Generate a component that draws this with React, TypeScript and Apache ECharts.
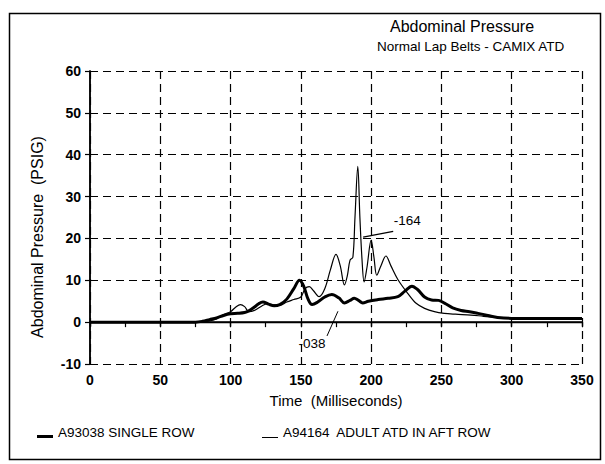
import React, { useEffect, useRef } from "react";
import * as echarts from "echarts";

// A93038 SINGLE ROW (thick line)
const timeA93038 = [0, 40, 75, 80, 85, 90, 95, 100, 105, 110, 113, 117, 120, 123, 127, 131, 135, 140, 145, 149, 152, 155, 158, 162, 167, 172, 177, 181, 185, 188, 191, 194, 198, 205, 212, 219, 224, 229, 233, 238, 243, 248, 253, 258, 264, 270, 276, 283, 290, 300, 320, 350];
const pressureA93038 = [0, 0, 0, 0.2, 0.6, 1.0, 1.6, 2.0, 2.1, 2.3, 2.7, 3.6, 4.4, 4.8, 4.3, 3.9, 4.2, 5.5, 8.0, 10.0, 8.6, 5.6, 4.2, 4.8, 6.0, 6.6, 5.8, 4.6, 5.2, 5.7, 5.2, 4.6, 5.0, 5.4, 5.7, 6.1, 7.4, 8.6, 7.8, 6.0, 5.3, 5.2, 4.4, 3.4, 2.8, 2.5, 2.1, 1.6, 1.1, 0.9, 0.9, 0.9];

// A94164 ADULT ATD IN AFT ROW (thin line)
const timeA94164 = [0, 40, 80, 88, 95, 100, 104, 107, 110, 113, 117, 122, 126, 130, 135, 140, 145, 150, 153, 156, 159, 163, 167, 171, 175, 178, 181, 183, 185, 187, 188.5, 190.5, 192, 193.5, 195, 197, 200, 202, 204, 207, 210.5, 214, 219, 226, 232, 238, 245, 252, 260, 271, 280, 290, 300, 350];
const pressureA94164 = [0, 0, 0.1, 0.5, 1.8, 2.5, 3.7, 4.2, 3.7, 2.5, 2.8, 3.8, 4.4, 4.2, 4.0, 4.8, 5.4, 6.0, 8.0, 8.5, 7.5, 6.1, 8.0, 12.5, 16.2, 13.5, 8.9, 11.0, 14.8, 15.5, 25.0, 37.2, 25.0, 15.0, 9.6, 13.0, 19.6, 15.5, 11.2, 13.5, 15.8, 13.5, 10.2, 6.9, 4.5, 3.3, 2.5, 2.1, 1.9, 1.7, 1.4, 1.1, 0.9, 0.9];

const seriesNames = ["A93038 SINGLE ROW", "A94164  ADULT ATD IN AFT ROW"];
const titleText = "Abdominal Pressure";
const subtitleText = "Normal Lap Belts - CAMIX ATD";
const xName = "Time  (Milliseconds)";
const yName = "Abdominal Pressure  (PSIG)";

// annotation texts, anchors and leader lines (data coordinates)
const note164Text = "-164";
const note164At = [225.7, 24.2];
const note164Leader = [[194.3, 20.3], [215.7, 21.7]];
const note038Text = "-038";
const note038At = [157.9, -5.0];
const note038Leader = [[176.4, 2.6], [168.6, -3.3]];

export default function App() {
  const ref = useRef<HTMLDivElement>(null);
  useEffect(() => {
    document.body.style.margin = "0";
    if (!ref.current) return;
    const chart = echarts.init(ref.current, null, { renderer: "svg" });
    const font = "'Liberation Sans', Arial, Helvetica, sans-serif";
    const zip = (a: number[], b: number[]) => a.map((t, i) => [t, b[i]]);
    const black = "#000";
    chart.setOption({
      animation: false,
      backgroundColor: "#fff",
      textStyle: { fontFamily: font, color: black },
      title: [
        { text: titleText, left: 390, top: 18, padding: 0, textStyle: { fontSize: 16, fontWeight: "normal", color: black, fontFamily: font } },
        { text: subtitleText, left: 377, top: 39, padding: 0, textStyle: { fontSize: 13.5, fontWeight: "normal", color: black, fontFamily: font } },
      ],
      legend: [
        {
          data: [{ name: seriesNames[0], icon: "path://M0,0M0,9L16,9L16,12L0,12Z" }],
          left: 37, top: 425, padding: 0, itemWidth: 16, itemHeight: 12, itemGap: 0,
          textStyle: { fontSize: 13.5, color: black, fontFamily: font },
        },
        {
          data: [{ name: seriesNames[1], icon: "path://M0,0M0,11L16,11L16,12L0,12Z" }],
          left: 262, top: 425, padding: 0, itemWidth: 16, itemHeight: 12, itemGap: 0,
          textStyle: { fontSize: 13.5, color: black, fontFamily: font },
        },
      ],
      grid: { left: 90, right: 23, top: 71, bottom: 100, containLabel: false },
      xAxis: [
        {
          type: "value", min: 0, max: 350, interval: 50, position: "bottom",
          axisLine: { show: true, lineStyle: { color: black, width: 1.5 } },
          axisTick: { show: true, inside: false, length: 5, lineStyle: { color: black, width: 1.2 } },
          minorTick: { show: true, splitNumber: 2, length: 5, lineStyle: { color: black, width: 1.2 } },
          axisLabel: { color: black, fontWeight: "bold", fontSize: 14, margin: 9, fontFamily: font },
          splitLine: { show: true, lineStyle: { color: black, type: [8, 5], width: 1.2 } },
          name: xName, nameLocation: "middle", nameGap: 29,
          nameTextStyle: { fontSize: 15, color: black, fontFamily: font },
        },
        {
          type: "value", min: 0, max: 350, interval: 50, position: "top",
          axisLine: { show: true, lineStyle: { color: black, width: 1.2 } },
          axisTick: { show: true, inside: true, length: 5, lineStyle: { color: black, width: 1.2 } },
          axisLabel: { show: false }, splitLine: { show: false },
        },
      ],
      yAxis: [
        {
          type: "value", min: -10, max: 60, interval: 10, position: "left",
          axisLine: { show: true, lineStyle: { color: black, width: 1.5 } },
          axisTick: { show: true, inside: false, length: 5, lineStyle: { color: black, width: 1.2 } },
          axisLabel: { color: black, fontWeight: "bold", fontSize: 14, margin: 9, fontFamily: font },
          splitLine: { show: true, lineStyle: { color: black, type: [8, 5], width: 1.2 } },
        },
        {
          type: "value", min: -10, max: 60, interval: 10, position: "right",
          axisLine: { show: true, lineStyle: { color: black, width: 1.5 } },
          axisTick: { show: false }, axisLabel: { show: false }, splitLine: { show: false },
        },
      ],
      series: [
        {
          name: seriesNames[0], type: "line", data: zip(timeA93038, pressureA93038),
          symbol: "none", smooth: 0.35, color: black,
          lineStyle: { color: black, width: 3 }, z: 3,
          markLine: {
            silent: true, symbol: "none", label: { show: false },
            lineStyle: { color: black, width: 1, type: "solid" },
            data: [[{ coord: note038Leader[0] }, { coord: note038Leader[1] }]],
          },
          markPoint: {
            symbol: "circle", symbolSize: 1, itemStyle: { color: "rgba(0,0,0,0)" },
            label: { show: true, position: "inside", color: black, fontSize: 13.5, fontFamily: font },
            data: [{ coord: note038At, value: note038Text, label: { formatter: note038Text } }],
          },
        },
        {
          name: seriesNames[1], type: "line", data: zip(timeA94164, pressureA94164),
          symbol: "none", smooth: 0.35, color: black,
          lineStyle: { color: black, width: 1.2 }, z: 4,
          markLine: {
            silent: true, symbol: "none", label: { show: false },
            lineStyle: { color: black, width: 1.3, type: "solid" },
            data: [
              { yAxis: 0 },
              [{ coord: note164Leader[0] }, { coord: note164Leader[1] }],
            ],
          },
          markPoint: {
            symbol: "circle", symbolSize: 1, itemStyle: { color: "rgba(0,0,0,0)" },
            label: { show: true, position: "inside", color: black, fontSize: 13.5, fontFamily: font },
            data: [{ coord: note164At, value: note164Text, label: { formatter: note164Text } }],
          },
        },
      ],
      graphic: [
        {
          type: "rect", left: 7, top: 11, silent: true,
          shape: { width: 591, height: 446 },
          style: { fill: "none", stroke: black, lineWidth: 1.5 },
        },
        {
          type: "text", x: 37, y: 237, rotation: Math.PI / 2, silent: true,
          style: {
            text: yName, fontSize: 16, fontFamily: font, fill: black,
            textAlign: "center", textVerticalAlign: "middle",
          },
        },
      ],
    });
    return () => chart.dispose();
  }, []);
  return <div ref={ref} style={{ width: 605, height: 464 }} />;
}
